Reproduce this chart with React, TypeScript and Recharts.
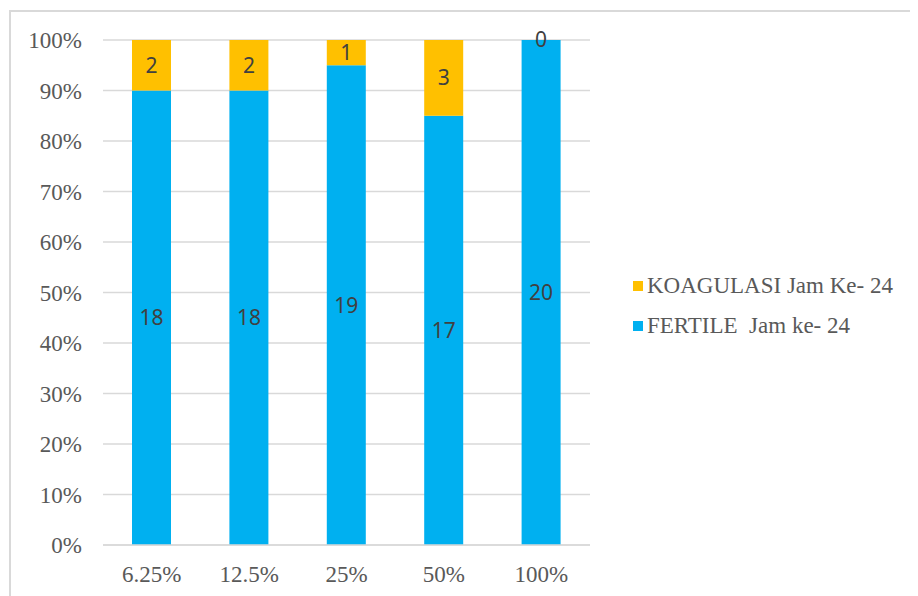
import { BarChart, Bar, XAxis, YAxis, CartesianGrid, Legend, LabelList } from "recharts";

const categories = ["6.25%", "12.5%", "25%", "50%", "100%"];
const fertile = [18, 18, 19, 17, 20];
const koagulasi = [2, 2, 1, 3, 0];
const yTicks = [0, 0.1, 0.2, 0.3, 0.4, 0.5, 0.6, 0.7, 0.8, 0.9, 1];

const BLUE = "#00B0F0";
const ORANGE = "#FFC000";
const GRID = "#d9d9d9";
const TEXT = "#595959";
const LABEL = "#404040";
const SERIF = "Tinos, Times New Roman, DejaVu Serif, serif";
const SANS = "Noto Sans";

const data = categories.map((name, i) => ({
  name,
  fertile: fertile[i],
  koagulasi: koagulasi[i],
}));

// legend lists the top series first, like Excel does
const legendItems = [
  { label: "KOAGULASI Jam Ke- 24", color: ORANGE },
  { label: "FERTILE  Jam ke- 24", color: BLUE },
];

const renderLegend = () => (
  <div>
    {legendItems.map((it) => (
      <div key={it.label} style={{ display: "flex", alignItems: "center", height: 40 }}>
        <span style={{ width: 10, height: 10, background: it.color, marginRight: 4, display: "inline-block" }} />
        <span style={{ fontFamily: SERIF, fontSize: 23, color: TEXT, whiteSpace: "pre" }}>{it.label}</span>
      </div>
    ))}
  </div>
);

// zero-height bars get no label from recharts, so draw the "0" at the top of the stack
const ZeroTopLabel = (props: any) => {
  const { x, y, width, index } = props;
  if (koagulasi[index] !== 0) return null;
  return (
    <text x={x + width / 2} y={y} dy="0.355em" textAnchor="middle" fill={LABEL} fontSize={21} fontFamily={SANS}>
      {koagulasi[index]}
    </text>
  );
};

export default function App() {
  return (
    <div style={{ position: "relative", width: 910, height: 588 }}>
      <div
        style={{
          position: "absolute",
          left: 1,
          top: 2,
          right: -12,
          bottom: -20,
          borderLeft: `2px solid ${GRID}`,
          borderTop: `2px solid ${GRID}`,
        }}
      />
      <BarChart
        width={910}
        height={588}
        data={data}
        stackOffset="expand"
        margin={{ top: 32, right: 328, bottom: 21, left: 0 }}
      >
        <CartesianGrid vertical={false} stroke={GRID} strokeWidth={1.5} />
        <XAxis
          dataKey="name"
          height={30}
          axisLine={{ stroke: GRID, strokeWidth: 1.5 }}
          tickLine={false}
          tickSize={0}
          tickMargin={21}
          tick={{ fill: TEXT, fontSize: 23, fontFamily: SERIF }}
        />
        <YAxis
          width={95}
          ticks={yTicks}
          domain={[0, 1]}
          axisLine={false}
          tickLine={false}
          tickSize={0}
          tickMargin={21}
          tickFormatter={(v: number) => `${Math.round(v * 100)}%`}
          tick={{ fill: TEXT, fontSize: 23, fontFamily: SERIF }}
        />
        <Legend
          layout="vertical"
          align="center"
          verticalAlign="middle"
          content={renderLegend}
          wrapperStyle={{ left: 625, top: 258, width: 290 }}
        />
        <Bar dataKey="fertile" stackId="a" fill={BLUE} barSize={39} isAnimationActive={false}>
          <LabelList dataKey="fertile" position="center" fill={LABEL} fontSize={21} fontFamily={SANS} />
          <LabelList dataKey="fertile" content={ZeroTopLabel} />
        </Bar>
        <Bar dataKey="koagulasi" stackId="a" fill={ORANGE} barSize={39} isAnimationActive={false}>
          <LabelList dataKey="koagulasi" position="center" fill={LABEL} fontSize={21} fontFamily={SANS} />
        </Bar>
      </BarChart>
    </div>
  );
}
